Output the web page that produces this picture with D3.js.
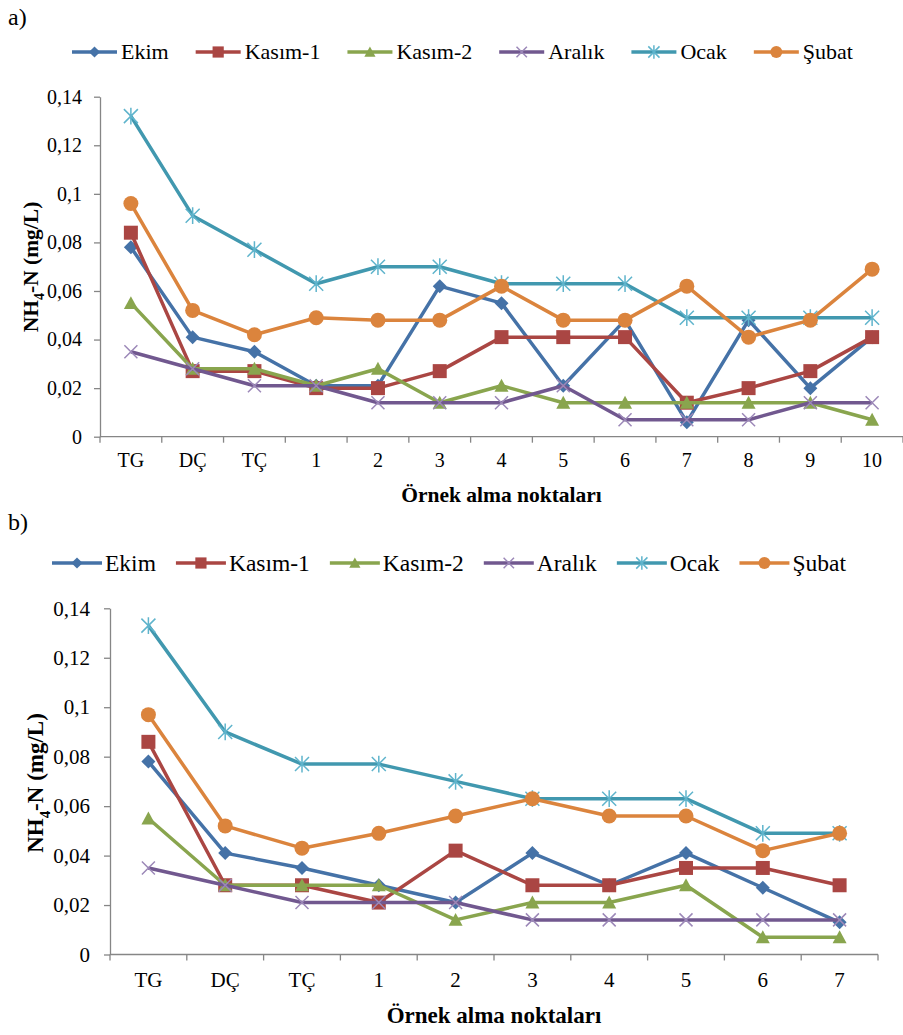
<!DOCTYPE html>
<html>
<head>
<meta charset="utf-8">
<script src="https://cdn.jsdelivr.net/npm/d3@7"></script>
<style>
  body { margin: 0; background: #fff; }
  svg { display: block; }
  .axis path, .axis line { stroke: #868686; stroke-width: 1.3; }
  .axis text { fill: #000; }
</style>
</head>
<body>
<div id="graphContainer"></div>
<script>
var W = 903, H = 1035;
var FONT = "'Liberation Serif'";

var seriesNames = ["Ekim", "Kasım-1", "Kasım-2", "Aralık", "Ocak", "Şubat"];
var seriesColors = ["#4572A7", "#AA4643", "#89A54E", "#71588F", "#4198AF", "#DB843D"];
var markerColors = ["#4572A7", "#AA4643", "#89A54E", "#9C88B8", "#5FB4CC", "#DB843D"];
var markerTypes = ["diamond", "square", "triangle", "x", "star", "circle"];
var yTicks = [0, 0.02, 0.04, 0.06, 0.08, 0.1, 0.12, 0.14];

// chart a)
var categoriesA = ["TG", "DÇ", "TÇ", "1", "2", "3", "4", "5", "6", "7", "8", "9", "10"];
var ekimA    = [0.078, 0.041, 0.035, 0.021, 0.021, 0.062, 0.055, 0.021, 0.048, 0.006, 0.048, 0.020, 0.041];
var kasim1A  = [0.084, 0.027, 0.027, 0.020, 0.020, 0.027, 0.041, 0.041, 0.041, 0.014, 0.020, 0.027, 0.041];
var kasim2A  = [0.055, 0.028, 0.028, 0.021, 0.028, 0.014, 0.021, 0.014, 0.014, 0.014, 0.014, 0.014, 0.007];
var aralikA  = [0.035, 0.028, 0.021, 0.021, 0.014, 0.014, 0.014, 0.021, 0.007, 0.007, 0.007, 0.014, 0.014];
var ocakA    = [0.132, 0.091, 0.077, 0.063, 0.070, 0.070, 0.063, 0.063, 0.063, 0.049, 0.049, 0.049, 0.049];
var subatA   = [0.096, 0.052, 0.042, 0.049, 0.048, 0.048, 0.062, 0.048, 0.048, 0.062, 0.041, 0.048, 0.069];

// chart b)
var categoriesB = ["TG", "DÇ", "TÇ", "1", "2", "3", "4", "5", "6", "7"];
var ekimB    = [0.078, 0.041, 0.035, 0.028, 0.021, 0.041, 0.028, 0.041, 0.027, 0.013];
var kasim1B  = [0.086, 0.028, 0.028, 0.021, 0.042, 0.028, 0.028, 0.035, 0.035, 0.028];
var kasim2B  = [0.055, 0.028, 0.028, 0.028, 0.014, 0.021, 0.021, 0.028, 0.007, 0.007];
var aralikB  = [0.035, 0.028, 0.021, 0.021, 0.021, 0.014, 0.014, 0.014, 0.014, 0.014];
var ocakB    = [0.133, 0.090, 0.077, 0.077, 0.070, 0.063, 0.063, 0.063, 0.049, 0.049];
var subatB   = [0.097, 0.052, 0.043, 0.049, 0.056, 0.063, 0.056, 0.056, 0.042, 0.049];

var commaFormat = d3.formatLocale({decimal: ",", thousands: ".", grouping: [3], currency: ["", ""]}).format("~f");

var svg = d3.select("#graphContainer").append("svg")
  .attr("width", W)
  .attr("height", H);

// marker shapes for d3.symbol
var shapes = {
  diamond: {draw: function(c, s){ var r = Math.sqrt(s) / 2; c.moveTo(0, -r); c.lineTo(r, 0); c.lineTo(0, r); c.lineTo(-r, 0); c.closePath(); }},
  square: {draw: function(c, s){ var r = Math.sqrt(s) / 2; c.rect(-r, -r, 2 * r, 2 * r); }},
  triangle: {draw: function(c, s){ var r = Math.sqrt(s) / 2; c.moveTo(0, -r); c.lineTo(r, r * 0.85); c.lineTo(-r, r * 0.85); c.closePath(); }},
  x: {draw: function(c, s){ var r = Math.sqrt(s) / 2; c.moveTo(-r, -r); c.lineTo(r, r); c.moveTo(r, -r); c.lineTo(-r, r); }},
  star: {draw: function(c, s){ var r = Math.sqrt(s) / 2; c.moveTo(-r, -r); c.lineTo(r, r); c.moveTo(r, -r); c.lineTo(-r, r); c.moveTo(0, -r * 1.2); c.lineTo(0, r * 1.2); }},
  circle: {draw: function(c, s){ var r = Math.sqrt(s) / 2; c.moveTo(r, 0); c.arc(0, 0, r, 0, 2 * Math.PI); }}
};
var markerSize = {diamond: 14, square: 14, triangle: 14, x: 13, star: 14, circle: 15};

function drawMarker(sel, i, scale){
  var t = markerTypes[i];
  var sz = markerSize[t] * (scale || 1);
  sel.attr("d", d3.symbol().type(shapes[t]).size(sz * sz));
  if(t == "x" || t == "star"){
    sel.attr("fill", "none").attr("stroke", markerColors[i]).attr("stroke-width", 1.5);
  } else {
    sel.attr("fill", markerColors[i]).attr("stroke", "none");
  }
}

function drawChart(cfg){
  var x = d3.scaleBand().domain(cfg.categories).range([cfg.left, cfg.right]).padding(0);
  var y = d3.scaleLinear().domain([0, 0.14]).range([cfg.bottom, cfg.top]);
  var cx = function(c){ return x(c) + x.bandwidth() / 2; };

  svg.append("text")
    .attr("x", cfg.labelX).attr("y", cfg.labelY)
    .style("font-family", FONT)
    .style("font-size", "24px")
    .text(cfg.label);

  // y axis
  var yAxis = svg.append("g")
    .attr("class", "axis")
    .attr("transform", "translate(" + cfg.left + ",0)")
    .call(d3.axisLeft(y).tickValues(yTicks).tickSize(6).tickSizeOuter(0).tickPadding(cfg.yPad).tickFormat(commaFormat));
  yAxis.selectAll("text").style("font-size", cfg.tickFont + "px").style("font-family", FONT);

  // x axis, labels in the middle of each category
  var xAxis = svg.append("g")
    .attr("class", "axis")
    .attr("transform", "translate(0," + cfg.bottom + ")")
    .call(d3.axisBottom(x).tickSize(0).tickSizeOuter(0));
  xAxis.select(".domain").attr("d", "M" + cfg.left + ",0H" + cfg.right);
  xAxis.selectAll("text")
    .attr("dy", null).attr("y", cfg.xLabelOffset)
    .style("font-size", cfg.tickFont + "px").style("font-family", FONT);
  // tick marks between categories
  xAxis.selectAll(".sep")
    .data(cfg.categories.concat(["end"]))
    .enter().append("line")
      .attr("class", "sep")
      .attr("x1", function(c){ return c == "end" ? cfg.right : x(c); })
      .attr("x2", function(c){ return c == "end" ? cfg.right : x(c); })
      .attr("y1", 0).attr("y2", 6);

  // axis titles
  svg.append("text")
    .attr("x", (cfg.left + cfg.right) / 2)
    .attr("y", cfg.xTitleY)
    .style("text-anchor", "middle")
    .style("font-family", FONT)
    .style("font-weight", "bold")
    .style("font-size", cfg.titleFont + "px")
    .text("Örnek alma noktaları");

  var yt = svg.append("text")
    .attr("transform", "translate(" + cfg.yTitleX + "," + cfg.yTitleY + ") rotate(-90)")
    .style("text-anchor", "middle")
    .style("font-family", FONT)
    .style("font-weight", "bold")
    .style("font-size", cfg.titleFont + "px");
  yt.append("tspan").text("NH");
  yt.append("tspan").attr("dy", cfg.titleFont * 0.3).style("font-size", (cfg.titleFont * 0.65) + "px").text("4");
  yt.append("tspan").attr("dy", -cfg.titleFont * 0.3).text("-N (mg/L)");

  // series
  var line = d3.line()
    .x(function(d, i){ return cx(cfg.categories[i]); })
    .y(function(d){ return y(d); });

  cfg.series.forEach(function(values, i){
    var g = svg.append("g");
    g.append("path")
      .attr("d", line(values))
      .attr("fill", "none")
      .attr("stroke", seriesColors[i])
      .attr("stroke-width", 3.5)
      .attr("stroke-linejoin", "round");
    g.selectAll("path.m")
      .data(values)
      .enter().append("path")
        .attr("class", "m")
        .attr("transform", function(d, j){ return "translate(" + cx(cfg.categories[j]) + "," + y(d) + ")"; })
        .call(drawMarker, i);
  });

  // legend
  var lx = cfg.legendX;
  seriesNames.forEach(function(name, i){
    var g = svg.append("g").attr("transform", "translate(" + lx + "," + cfg.legendY + ")");
    g.append("line")
      .attr("x1", 0).attr("x2", cfg.legendLine)
      .attr("stroke", seriesColors[i])
      .attr("stroke-width", 3.5);
    g.append("path")
      .attr("transform", "translate(" + (cfg.legendLine / 2) + ",0)")
      .call(drawMarker, i, 0.8);
    var t = g.append("text")
      .attr("x", cfg.legendLine + cfg.legendTextGap)
      .attr("y", cfg.legendFont * 0.34)
      .style("font-family", FONT)
      .style("font-size", cfg.legendFont + "px")
      .text(name);
    lx += cfg.legendLine + cfg.legendTextGap + t.node().getComputedTextLength() + cfg.legendGap;
  });
}

drawChart({
  label: "a)", labelX: 8, labelY: 25,
  categories: categoriesA,
  series: [ekimA, kasim1A, kasim2A, aralikA, ocakA, subatA],
  left: 100, right: 903, top: 96.7, bottom: 436.7,
  tickFont: 20, yPad: 12, xLabelOffset: 30.5,
  titleFont: 21.5, xTitleY: 502, yTitleX: 38, yTitleY: 267,
  legendX: 72, legendY: 52, legendLine: 45, legendTextGap: 4, legendGap: 27, legendFont: 22
});

drawChart({
  label: "b)", labelX: 8, labelY: 530,
  categories: categoriesB,
  series: [ekimB, kasim1B, kasim2B, aralikB, ocakB, subatB],
  left: 110, right: 878, top: 608.3, bottom: 954.5,
  tickFont: 21, yPad: 14, xLabelOffset: 32.8,
  titleFont: 23, xTitleY: 1023, yTitleX: 43, yTitleY: 783,
  legendX: 52, legendY: 563, legendLine: 50, legendTextGap: 3, legendGap: 20, legendFont: 23.5
});
</script>
</body>
</html>
